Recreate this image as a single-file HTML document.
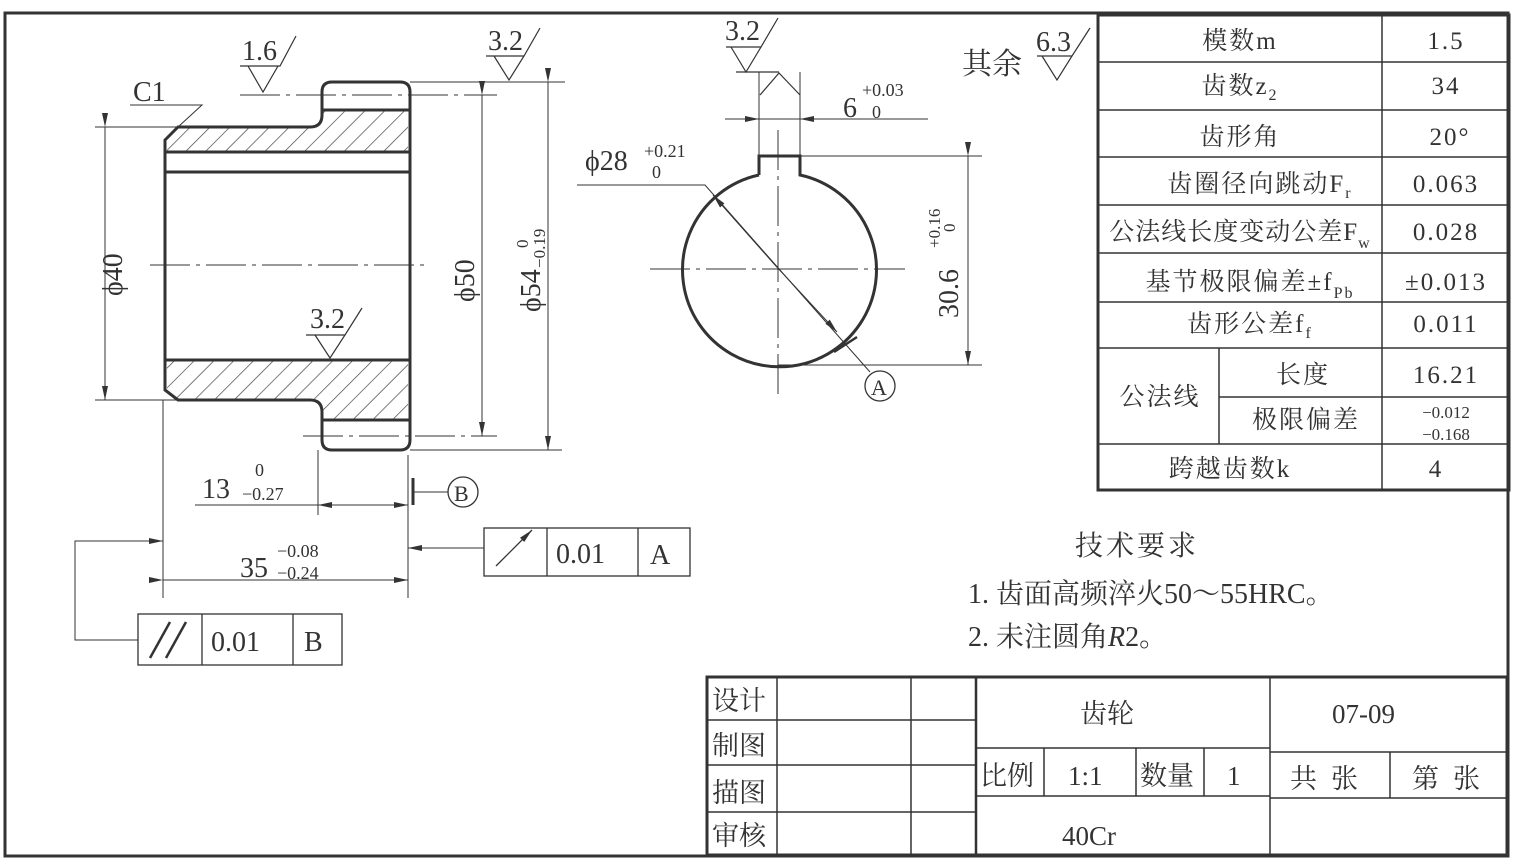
<!DOCTYPE html>
<html><head><meta charset="utf-8"><style>
html,body{margin:0;padding:0;background:#fff;}
svg{display:block;}
text{font-family:"Liberation Serif","Noto Serif CJK SC","Noto Sans CJK SC",serif;fill:#333;}
</style></head><body>
<svg width="1514" height="867" viewBox="0 0 1514 867" xmlns="http://www.w3.org/2000/svg">
<defs>
<pattern id="h" patternUnits="userSpaceOnUse" width="14" height="14" patternTransform="rotate(45)">
<line x1="0" y1="0" x2="0" y2="14" stroke="#444" stroke-width="1.4"/>
</pattern>
<marker id="a" markerWidth="14" markerHeight="8" refX="14" refY="4" orient="auto" markerUnits="userSpaceOnUse">
<path d="M0,1 L14,4 L0,7 Z" fill="#333"/></marker>
</defs>
<rect x="5" y="13" width="1503" height="843" fill="none" stroke="#333" stroke-width="3"/>

<g stroke="#333" fill="none">
<path d="M178,127 L310,127 Q322,127 322,115 L322,110 L408,110 L408,152 L167,152 L167,140 Z" fill="url(#h)" stroke="none"/>
<path d="M167,360 L408,360 L408,420 L322,420 L322,412 Q322,400 310,400 L178,400 L167,390 Z" fill="url(#h)" stroke="none"/>
<path d="M165,140 L178,127 L310,127 Q322,127 322,115 L322,92 Q322,82 332,82 L400,82 Q410,82 410,92 L410,440 Q410,450 400,450 L332,450 Q322,450 322,440 L322,412 Q322,400 310,400 L178,400 L165,390 Z" stroke-width="3"/>
<line x1="322" y1="110" x2="410" y2="110" stroke-width="3"/>
<line x1="322" y1="420" x2="410" y2="420" stroke-width="3"/>
<line x1="165" y1="152" x2="410" y2="152" stroke-width="3"/>
<line x1="165" y1="172" x2="410" y2="172" stroke-width="3"/>
<line x1="165" y1="360" x2="410" y2="360" stroke-width="3"/>
<line x1="150" y1="265" x2="425" y2="265" stroke-width="1" stroke-dasharray="40,6,4,6"/>
<line x1="240" y1="95" x2="497" y2="95" stroke-width="1" stroke-dasharray="40,6,4,6"/>
<line x1="303" y1="436" x2="497" y2="436" stroke-width="1" stroke-dasharray="40,6,4,6"/>
<g stroke-width="1">
<line x1="95" y1="127" x2="178" y2="127"/><line x1="95" y1="400" x2="178" y2="400"/>
<line x1="105" y1="127" x2="105" y2="400" marker-start="url(#a)" marker-end="url(#a)"/>
<line x1="482" y1="95" x2="482" y2="436" marker-start="url(#a)" marker-end="url(#a)"/>
<line x1="410" y1="82" x2="565" y2="82"/><line x1="410" y1="450" x2="562" y2="450"/>
<line x1="548" y1="82" x2="548" y2="450" marker-start="url(#a)" marker-end="url(#a)"/>
<path d="M130,105 L202,105 L178,127"/>
<line x1="163" y1="400" x2="163" y2="598"/>
<line x1="408" y1="455" x2="408" y2="598"/>
<line x1="318" y1="450" x2="318" y2="515"/>
<line x1="195" y1="505" x2="318" y2="505"/>
<line x1="408" y1="505" x2="318" y2="505" marker-end="url(#a)"/>
<line x1="318" y1="505" x2="408" y2="505" marker-end="url(#a)"/>
<line x1="163" y1="580" x2="408" y2="580" marker-start="url(#a)" marker-end="url(#a)"/>
<path d="M138,640 L75,640 L75,541 L163,541" marker-end="url(#a)"/>
<line x1="484" y1="548" x2="408" y2="548" marker-end="url(#a)"/>
<line x1="414" y1="492" x2="448" y2="492"/>
</g>
<line x1="413" y1="478" x2="413" y2="505" stroke-width="3"/>
<circle cx="463" cy="492" r="15" stroke-width="1.3"/>
<g stroke-width="1.2">
<path d="M248,66 L263,92 L278,66 Z M240,66 L280,66 L296,36"/>
<path d="M494,56 L509,80 L524,56 Z M486,56 L524,56 L540,28"/>
<path d="M315,335 L330,358 L345,335 Z M306,335 L345,335 L362,308"/>
<path d="M731,47 L746,72 L761,47 Z M726,47 L761,47 L778,18 M736,72 L779,72"/>
<path d="M1042,56 L1057,80 L1072,56 Z M1037,56 L1072,56 L1090,28"/>
<path d="M760,95 L779,73 L800,95"/>
</g>
<path d="M759,175 L759,156 L800,156 L800,175 A97,97 0 1 1 759,175" stroke-width="3"/>
<line x1="650" y1="269" x2="905" y2="269" stroke-width="1" stroke-dasharray="40,6,4,6"/>
<line x1="778" y1="130" x2="778" y2="395" stroke-width="1" stroke-dasharray="40,6,4,6"/>
<g stroke-width="1">
<line x1="759" y1="72" x2="759" y2="156"/><line x1="800" y1="72" x2="800" y2="156"/>
<line x1="725" y1="119" x2="759" y2="119" marker-end="url(#a)"/>
<line x1="928" y1="119" x2="800" y2="119" marker-end="url(#a)"/>
<line x1="759" y1="119" x2="800" y2="119"/>
<line x1="800" y1="156" x2="982" y2="156"/><line x1="778" y1="365" x2="982" y2="365"/>
<line x1="968" y1="156" x2="968" y2="365" marker-start="url(#a)" marker-end="url(#a)"/>
<path d="M577,185 L705,185 L870,372"/>
<line x1="775" y1="265" x2="713" y2="195" marker-end="url(#a)"/>
<line x1="775" y1="265" x2="837" y2="332" marker-end="url(#a)"/>
</g>
<line x1="834" y1="352" x2="857" y2="337" stroke-width="2.5"/>
<circle cx="880" cy="386" r="15" stroke-width="1.3"/>
<g stroke-width="1.3">
<rect x="484" y="528" width="206" height="48"/><line x1="547" y1="528" x2="547" y2="576"/><line x1="638" y1="528" x2="638" y2="576"/>
<rect x="138" y="614" width="204" height="51"/><line x1="202" y1="614" x2="202" y2="665"/><line x1="293" y1="614" x2="293" y2="665"/>
</g>
<line x1="496" y1="566" x2="532" y2="530" stroke-width="1.3" marker-end="url(#a)"/>
<line x1="150" y1="658" x2="170" y2="622" stroke-width="2.5"/>
<line x1="166" y1="658" x2="186" y2="622" stroke-width="2.5"/>
<rect x="1098" y="15" width="411" height="475" stroke-width="3"/>
<g stroke-width="1.5">
<line x1="1382" y1="15" x2="1382" y2="490"/>
<line x1="1219" y1="348" x2="1219" y2="444"/>
<line x1="1098" y1="62" x2="1509" y2="62"/><line x1="1098" y1="110" x2="1509" y2="110"/>
<line x1="1098" y1="157" x2="1509" y2="157"/><line x1="1098" y1="205" x2="1509" y2="205"/>
<line x1="1098" y1="253" x2="1509" y2="253"/><line x1="1098" y1="302" x2="1509" y2="302"/>
<line x1="1098" y1="348" x2="1509" y2="348"/><line x1="1219" y1="397" x2="1509" y2="397"/>
<line x1="1098" y1="444" x2="1509" y2="444"/>
</g>
<rect x="707" y="677" width="800" height="178" stroke-width="3"/>
<g stroke-width="1.5">
<line x1="777" y1="677" x2="777" y2="855"/><line x1="911" y1="677" x2="911" y2="855"/>
<line x1="976" y1="677" x2="976" y2="855" stroke-width="2.5"/><line x1="1270" y1="677" x2="1270" y2="855"/>
<line x1="707" y1="720" x2="976" y2="720"/><line x1="707" y1="765" x2="976" y2="765"/><line x1="707" y1="812" x2="976" y2="812"/>
<line x1="976" y1="748" x2="1270" y2="748"/><line x1="976" y1="796" x2="1270" y2="796"/>
<line x1="1270" y1="752" x2="1507" y2="752"/><line x1="1270" y1="798" x2="1507" y2="798"/>
<line x1="1044" y1="748" x2="1044" y2="796"/><line x1="1136" y1="748" x2="1136" y2="796"/><line x1="1204" y1="748" x2="1204" y2="796"/>
<line x1="1390" y1="752" x2="1390" y2="798"/>
</g>
</g>

<g font-size="28">
<text x="133" y="101">C1</text>
<text x="242" y="60">1.6</text>
<text x="488" y="50">3.2</text>
<text x="310" y="328">3.2</text>
<text x="725" y="40">3.2</text>
<text x="1036" y="51">6.3</text>
<text x="962" y="74" font-size="30" font-family="Noto Serif CJK SC,serif">其余</text>
<text transform="translate(122,296) rotate(-90)">ϕ40</text>
<text transform="translate(474,302) rotate(-90)">ϕ50</text>
<text transform="translate(540,312) rotate(-90)">ϕ54</text>
<text transform="translate(528,248) rotate(-90)" font-size="17">0</text>
<text transform="translate(545,268) rotate(-90)" font-size="17">−0.19</text>
<text transform="translate(958,318) rotate(-90)">30.6</text>
<text transform="translate(940,248) rotate(-90)" font-size="17">+0.16</text>
<text transform="translate(955,232) rotate(-90)" font-size="17">0</text>
<text x="843" y="117">6</text>
<text x="862" y="96" font-size="18">+0.03</text><text x="872" y="118" font-size="18">0</text>
<text x="585" y="170">ϕ28</text>
<text x="644" y="157" font-size="18">+0.21</text><text x="652" y="178" font-size="18">0</text>
<text x="202" y="498">13</text>
<text x="255" y="476" font-size="18">0</text><text x="242" y="500" font-size="18">−0.27</text>
<text x="240" y="577">35</text>
<text x="277" y="557" font-size="18">−0.08</text><text x="277" y="579" font-size="18">−0.24</text>
<text x="454" y="501" font-size="22">B</text>
<text x="871" y="395" font-size="22">A</text>
<text x="556" y="563">0.01</text><text x="650" y="564">A</text>
<text x="211" y="651">0.01</text><text x="304" y="651">B</text>
</g>

<g font-size="25" text-anchor="middle" letter-spacing="2">
<text x="1240" y="49">模数m</text><text x="1446" y="49">1.5</text>
<text x="1240" y="94">齿数z<tspan font-size="16" dy="6">2</tspan></text><text x="1446" y="94">34</text>
<text x="1240" y="145">齿形角</text><text x="1450" y="145">20°</text>
<text x="1260" y="192">齿圈径向跳动F<tspan font-size="16" dy="6">r</tspan></text><text x="1446" y="192">0.063</text>
<text x="1240" y="240" letter-spacing="1">公法线长度变动公差F<tspan font-size="16" dy="8">w</tspan></text><text x="1446" y="240">0.028</text>
<text x="1250" y="290">基节极限偏差±f<tspan font-size="16" dy="8">Pb</tspan></text><text x="1446" y="290">±0.013</text>
<text x="1250" y="332">齿形公差f<tspan font-size="16" dy="6">f</tspan></text><text x="1446" y="332">0.011</text>
<text x="1160" y="405">公法线</text>
<text x="1303" y="383">长度</text><text x="1446" y="383">16.21</text>
<text x="1306" y="428">极限偏差</text>
<text x="1446" y="418" font-size="17" letter-spacing="0">−0.012</text><text x="1446" y="440" font-size="17" letter-spacing="0">−0.168</text>
<text x="1230" y="477">跨越齿数k</text><text x="1436" y="477">4</text>
</g>

<g font-size="28">
<text x="1075" y="555" letter-spacing="3">技术要求</text>
<text x="968" y="603">1.  齿面高频淬火50～55HRC。</text>
<text x="968" y="646">2.  未注圆角<tspan font-style="italic">R</tspan>2。</text>
</g>

<g font-size="27">
<text x="712" y="710">设计</text><text x="712" y="755">制图</text>
<text x="712" y="802">描图</text><text x="712" y="845">审核</text>
<text x="1080" y="723">齿轮</text><text x="1332" y="723">07-09</text>
<text x="980" y="785">比例</text><text x="1068" y="785">1:1</text>
<text x="1140" y="785">数量</text><text x="1227" y="785">1</text>
<text x="1290" y="788" letter-spacing="14">共张</text><text x="1412" y="788" letter-spacing="14">第张</text>
<text x="1062" y="845">40Cr</text>
</g>
</svg>
</body></html>
